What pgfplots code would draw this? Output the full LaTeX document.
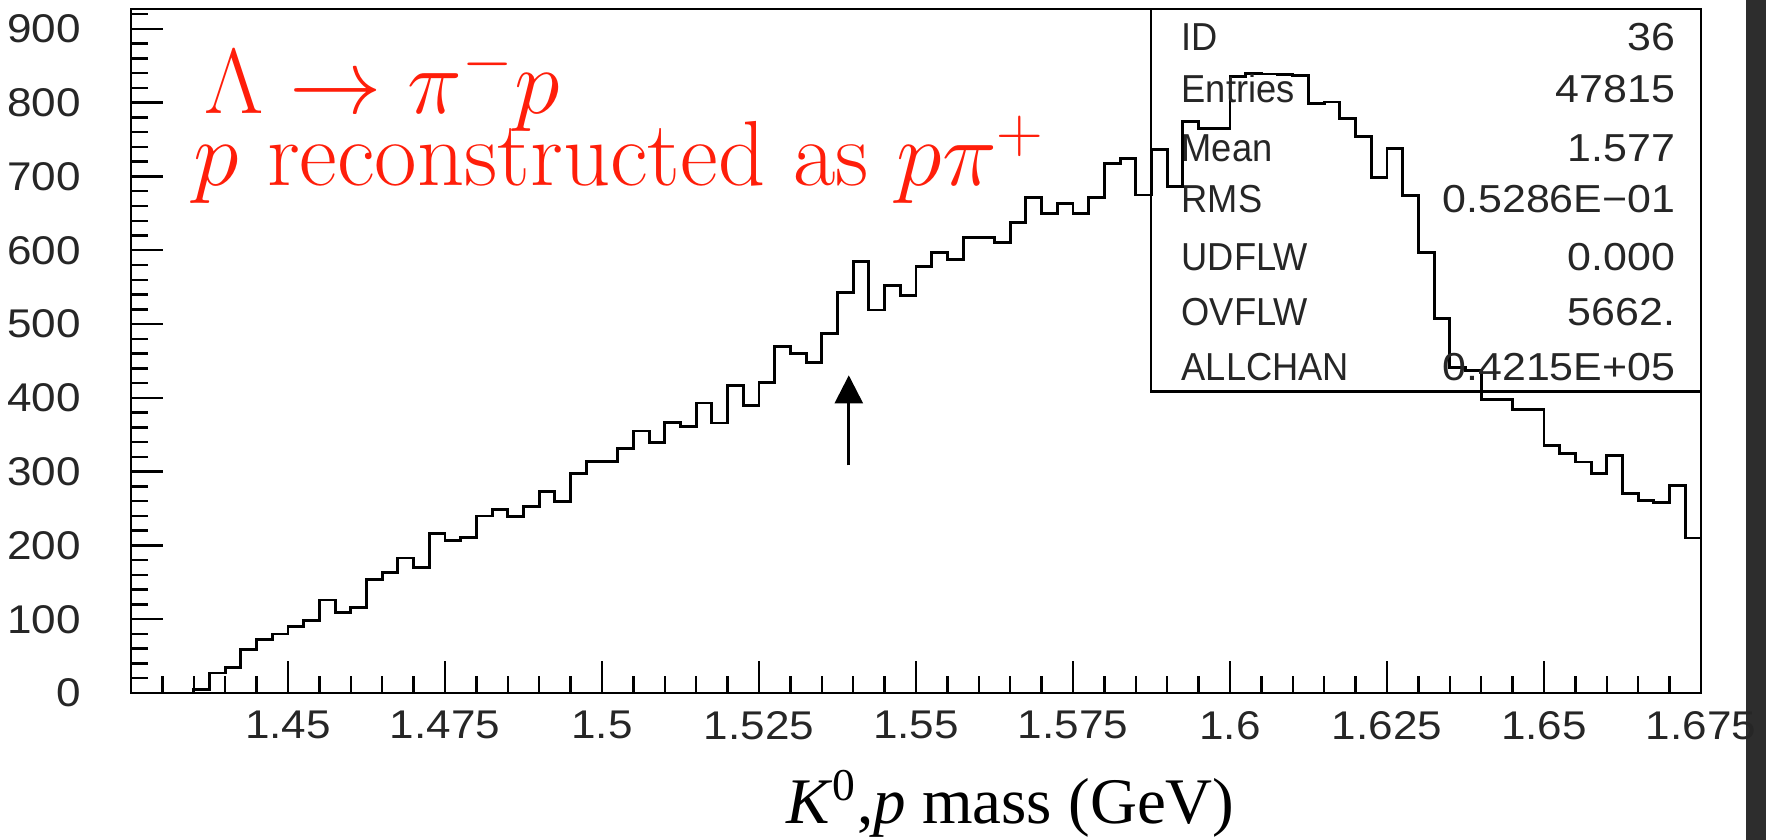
\RequirePackage{fix-cm}
\documentclass[border=0pt]{standalone}
\usepackage{fontspec}
\usepackage{pgfplots}
\pgfplotsset{compat=1.18}
\usepackage{pgfplotstable}
\usetikzlibrary{arrows.meta}

\newfontfamily\pawlab[FakeStretch=0.93]{Liberation Sans}
\newfontfamily\pawnum[FakeStretch=1.1]{Liberation Sans}
\newfontfamily\capfont{Liberation Serif}
\definecolor{annred}{RGB}{255,30,10}
\definecolor{slide}{RGB}{45,45,45}

% K0 p invariant mass, 100 bins of 2.5 MeV (left bin edge, content)
\pgfplotstableread{
x y
1.4250 0
1.4275 0
1.4300 0
1.4325 0
1.4350 5
1.4375 27
1.4400 35
1.4425 59
1.4450 73
1.4475 80
1.4500 90
1.4525 98
1.4550 126
1.4575 109
1.4600 116
1.4625 154
1.4650 163
1.4675 183
1.4700 170
1.4725 216
1.4750 207
1.4775 211
1.4800 240
1.4825 249
1.4850 239
1.4875 253
1.4900 273
1.4925 260
1.4950 297
1.4975 314
1.5000 314
1.5025 331
1.5050 355
1.5075 339
1.5100 367
1.5125 361
1.5150 393
1.5175 366
1.5200 417
1.5225 390
1.5250 421
1.5275 470
1.5300 460
1.5325 448
1.5350 487
1.5375 543
1.5400 585
1.5425 519
1.5450 552
1.5475 539
1.5500 578
1.5525 597
1.5550 588
1.5575 617
1.5600 617
1.5625 611
1.5650 638
1.5675 672
1.5700 650
1.5725 663
1.5750 650
1.5775 672
1.5800 718
1.5825 724
1.5850 675
1.5875 737
1.5900 686
1.5925 774
1.5950 765
1.5975 765
1.6000 836
1.6025 840
1.6050 839
1.6075 838
1.6100 837
1.6125 799
1.6150 801
1.6175 779
1.6200 754
1.6225 699
1.6250 738
1.6275 674
1.6300 597
1.6325 507
1.6350 441
1.6375 437
1.6400 398
1.6425 398
1.6450 384
1.6475 384
1.6500 335
1.6525 325
1.6550 313
1.6575 297
1.6600 322
1.6625 270
1.6650 261
1.6675 258
1.6700 281
1.6725 210
1.6750 210
}\massdata

\newcommand\statlab{\pawlab\fontsize{11.1}{13}\selectfont}
\newcommand\statval{\pawnum\fontsize{11.1}{13}\selectfont}

\begin{document}
\begin{tikzpicture}
\path[use as bounding box] (0,0) rectangle (17.66,8.40);
\fill[slide] (17.46,0) rectangle (17.66,8.40);
\begin{axis}[
  at={(1.31cm,1.47cm)}, anchor=south west,
  scale only axis, width=15.70cm, height=6.84cm,
  xmin=1.425, xmax=1.675, ymin=0, ymax=927,
  clip=false,
  axis line style={line width=0.7pt},
  tick pos=left, tick align=inside,
  major tick length=0.32cm, minor tick length=0.17cm,
  major tick style={line width=0.7pt, black},
  minor tick style={line width=0.7pt, black},
  xtick={1.45,1.475,1.5,1.525,1.55,1.575,1.6,1.625,1.65,1.675},
  minor xtick={1.43,1.435,1.44,1.445,1.455,1.46,1.465,1.47,1.48,1.485,1.49,1.495,1.505,1.51,1.515,1.52,1.53,1.535,1.54,1.545,1.555,1.56,1.565,1.57,1.58,1.585,1.59,1.595,1.605,1.61,1.615,1.62,1.63,1.635,1.64,1.645,1.655,1.66,1.665,1.67},
  ytick={0,100,...,900},
  minor ytick={0,20,...,920},
  xticklabel={\pgfmathprintnumber[fixed,precision=3,assume math mode=true]{\tick}},
  yticklabel={\pgfmathprintnumber[fixed,precision=0,assume math mode=true]{\tick}},
  ticklabel style={font=\pawnum\fontsize{11.4}{13}\selectfont, text=black!85},
  xticklabel shift=0.06cm,
  yticklabel shift=0.38cm,
]
\addplot[const plot, line width=0.8pt, black] table {\massdata};

% statistics box
\draw[line width=0.7pt] (axis cs:1.5874,927) -- (axis cs:1.5874,408.8) -- (axis cs:1.675,408.8);
\begin{scope}[every node/.style={inner sep=0, text=black!85}]
\node[anchor=west, font=\statlab] at (axis cs:1.5922,889.1) {ID};
\node[anchor=west, font=\statlab] at (axis cs:1.5922,818.6) {Entries};
\node[anchor=west, font=\statlab] at (axis cs:1.5922,738.6) {Mean};
\node[anchor=west, font=\statlab] at (axis cs:1.5922,669.5) {RMS};
\node[anchor=west, font=\statlab] at (axis cs:1.5922,590.9) {UDFLW};
\node[anchor=west, font=\statlab] at (axis cs:1.5922,516.4) {OVFLW};
\node[anchor=west, font=\statlab] at (axis cs:1.5922,441.8) {ALLCHAN};
\node[anchor=east, font=\statval] at (axis cs:1.6710,889.1) {36};
\node[anchor=east, font=\statval] at (axis cs:1.6710,818.6) {47815};
\node[anchor=east, font=\statval] at (axis cs:1.6710,738.6) {1.577};
\node[anchor=east, font=\statval] at (axis cs:1.6710,669.5) {0.5286E−01};
\node[anchor=east, font=\statval] at (axis cs:1.6710,590.9) {0.000};
\node[anchor=east, font=\statval] at (axis cs:1.6710,516.4) {5662.};
\node[anchor=east, font=\statval] at (axis cs:1.6710,441.8) {0.4215E+05};
\end{scope}

% annotation
\node[anchor=base west, inner sep=0, text=annred, font=\fontsize{26.3}{31}\selectfont] at (axis cs:1.43662,785.2) {$\Lambda \rightarrow \pi^{-}p$};
\node[anchor=base west, inner sep=0, text=annred, font=\fontsize{26.3}{31}\selectfont] at (axis cs:1.43487,687.7) {$p$ reconstructed as $p\pi^{+}$};

% expected mass position
\draw[line width=0.75pt, -{Triangle[length=0.28cm,width=0.28cm]}] (axis cs:1.5393,308.6) -- (axis cs:1.5393,430.5);

% axis title
\node[anchor=base, inner sep=0, font=\capfont\fontsize{18.5}{22}\selectfont] at (axis cs:1.56505,-177.5) {\textit{K}\textsuperscript{0},\textit{p} mass (GeV)};
\end{axis}
\end{tikzpicture}
\end{document}
